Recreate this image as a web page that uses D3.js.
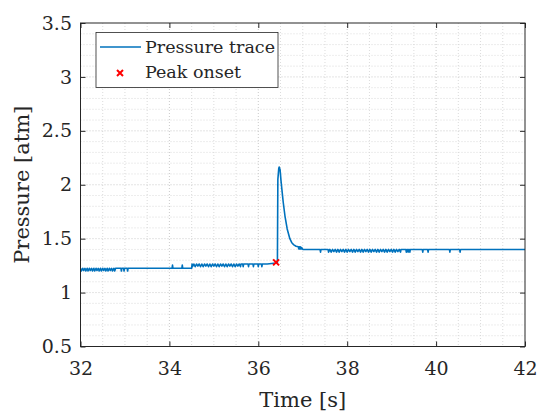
<!DOCTYPE html>
<html><head><meta charset="utf-8">
<script src="https://cdn.jsdelivr.net/npm/d3@7"></script>
<style>
body{margin:0;background:#fff}
svg{display:block}
</style></head>
<body><svg id="c" width="537" height="413" font-family="'DejaVu Serif', serif"></svg>
<script>
// ---- data ----
const xTicks = [32, 34, 36, 38, 40, 42];
const yTicks = [0.5, 1, 1.5, 2, 2.5, 3, 3.5];
const xLabel = "Time [s]";
const yLabel = "Pressure [atm]";
const legendLabels = ["Pressure trace", "Peak onset"];

// baseline before the peak: noisy band, spikes, level step
const baselineA = [
  [32.00,1.225],[32.02,1.20],[32.05,1.225],[32.07,1.205],[32.10,1.225],[32.12,1.20],[32.15,1.225],[32.17,1.20],
  [32.20,1.225],[32.22,1.205],[32.25,1.225],[32.27,1.20],[32.30,1.225],[32.32,1.20],[32.35,1.225],[32.37,1.205],
  [32.40,1.225],[32.42,1.20],[32.45,1.225],[32.47,1.20],[32.50,1.225],[32.52,1.205],[32.55,1.225],[32.57,1.20],
  [32.60,1.225],[32.62,1.20],[32.65,1.225],[32.67,1.205],[32.70,1.225],[32.72,1.20],[32.75,1.225],[32.77,1.20],
  [32.79,1.225],
  [32.91,1.225],[32.92,1.20],[32.93,1.225],[32.97,1.225],[32.98,1.20],[32.99,1.225],
  [33.05,1.225],[33.06,1.20],[33.07,1.225],
  [34.06,1.225],[34.07,1.255],[34.08,1.225],[34.28,1.225],[34.29,1.255],[34.30,1.225],
  [34.50,1.225],[34.51,1.265]
];
const baselineB = [
  [34.52,1.24],[34.55,1.265],[34.58,1.24],[34.61,1.265],[34.64,1.245],[34.67,1.265],[34.70,1.24],[34.73,1.265],
  [34.76,1.24],[34.79,1.265],[34.82,1.245],[34.85,1.265],[34.88,1.24],[34.91,1.265],[34.94,1.24],[34.97,1.265],
  [35.00,1.245],[35.03,1.265],[35.06,1.24],[35.09,1.265],[35.12,1.24],[35.15,1.265],[35.18,1.245],[35.21,1.265],
  [35.24,1.24],[35.27,1.265],[35.30,1.24],[35.33,1.265],[35.36,1.245],[35.39,1.265],[35.42,1.24],[35.45,1.265],
  [35.48,1.24],[35.51,1.265],[35.54,1.245],[35.57,1.265],[35.60,1.24],[35.61,1.265],
  [35.65,1.265],[35.66,1.24],[35.67,1.265],[35.77,1.265],[35.78,1.24],[35.79,1.265],
  [35.88,1.265],[35.89,1.24],[35.90,1.265],[35.99,1.265],[36.00,1.24],[36.01,1.265],
  [36.07,1.265],[36.08,1.24],[36.09,1.265],[36.20,1.265],[36.40,1.275],[36.43,1.28]
];
// pressure peak and decay
const peak = [
  [36.44,2.05],[36.46,2.15],[36.47,2.165],[36.49,2.14],[36.51,2.04],[36.53,1.96],[36.56,1.84],[36.60,1.71],
  [36.65,1.59],[36.71,1.50],[36.75,1.465],[36.79,1.445],[36.85,1.43],[36.90,1.425],[36.91,1.405],[36.92,1.425],
  [36.93,1.405],[36.94,1.425],[36.95,1.405],[36.96,1.42],[36.97,1.405],[36.98,1.415],[37.00,1.40]
];
// plateau after the peak
const plateau = [
  [37.39,1.40],[37.40,1.375],[37.41,1.40],[37.57,1.40],
  [37.58,1.375],[37.61,1.40],[37.64,1.375],[37.67,1.40],[37.70,1.38],[37.73,1.40],[37.76,1.375],[37.79,1.40],
  [37.82,1.375],[37.85,1.40],[37.88,1.38],[37.91,1.40],[37.94,1.375],[37.97,1.40],[38.00,1.375],[38.03,1.40],
  [38.06,1.38],[38.09,1.40],[38.12,1.375],[38.15,1.40],[38.18,1.375],[38.21,1.40],[38.24,1.38],[38.27,1.40],
  [38.30,1.375],[38.33,1.40],[38.36,1.375],[38.39,1.40],[38.42,1.38],[38.45,1.40],[38.48,1.375],[38.51,1.40],
  [38.54,1.375],[38.57,1.40],[38.60,1.38],[38.63,1.40],[38.66,1.375],[38.69,1.40],[38.72,1.375],[38.75,1.40],
  [38.78,1.38],[38.81,1.40],[38.84,1.375],[38.87,1.40],[38.90,1.375],[38.93,1.40],[38.96,1.38],[38.99,1.40],
  [39.02,1.375],[39.05,1.40],[39.08,1.375],[39.11,1.40],[39.14,1.38],[39.17,1.40],[39.20,1.375],[39.21,1.40],
  [39.32,1.40],[39.33,1.375],[39.34,1.40],[39.36,1.40],[39.37,1.375],[39.38,1.40],[39.40,1.40],[39.41,1.375],[39.42,1.40],
  [39.69,1.40],[39.70,1.375],[39.71,1.40],[39.81,1.40],[39.82,1.375],[39.83,1.40],
  [40.30,1.40],[40.31,1.375],[40.32,1.40],[40.53,1.40],[40.54,1.375],[40.55,1.40],[42.00,1.40]
];
const onsetTime = [36.40];
const onsetPressure = [1.28];

// ---- layout ----
const FONT = "'DejaVu Serif', serif";
const svg = d3.select("#c");
const L = 80.5, R = 525, T = 23, B = 346.5;
const x = d3.scaleLinear().domain([32, 42]).range([L, R]);
const y = d3.scaleLinear().domain([0.5, 3.5]).range([B, T]);
const axisColor = "#262626";
const blue = "#0072BD";

svg.append("rect").attr("width",537).attr("height",413).attr("fill","#fff");

// grid (minor every 0.5 s / 0.1 atm, major on ticks)
const g = svg.append("g");
const xMinor = d3.range(32.5, 42, 0.5);
const yMinor = d3.range(0.6, 3.45, 0.1);
g.selectAll(".vx").data(xMinor).join("line")
  .attr("x1", d => x(d)).attr("x2", d => x(d)).attr("y1", T).attr("y2", B)
  .attr("stroke", d => (Math.abs(d % 2) < 1e-6 ? "#bdbdbd" : "#d2d2d2"))
  .attr("stroke-width", 0.8).attr("stroke-dasharray", "1,2");
g.selectAll(".hy").data(yMinor).join("line")
  .attr("x1", L).attr("x2", R).attr("y1", d => y(d)).attr("y2", d => y(d))
  .attr("stroke", d => (Math.abs((d*10) % 5) < 1e-6 || Math.abs((d*10) % 5 - 5) < 1e-6 ? "#bdbdbd" : "#d2d2d2"))
  .attr("stroke-width", 0.8).attr("stroke-dasharray", "1,2");

// trace
const trace = baselineA.concat(baselineB, peak, plateau);
svg.append("defs").append("clipPath").attr("id","clip").append("rect")
  .attr("x", L).attr("y", T).attr("width", R - L).attr("height", B - T);
svg.append("path").datum(trace)
  .attr("clip-path","url(#clip)")
  .attr("fill","none").attr("stroke", blue).attr("stroke-width", 1.6)
  .attr("stroke-linejoin","round")
  .attr("d", d3.line().x(d => x(d[0])).y(d => y(d[1])));

// onset marker
const xs = 3;
const mk = svg.append("g").selectAll("g").data(onsetTime).join("g")
  .attr("transform", (d, i) => `translate(${x(d)},${y(onsetPressure[i])})`);
mk.append("path").attr("d", `M${-xs},${-xs}L${xs},${xs}M${-xs},${xs}L${xs},${-xs}`)
  .attr("stroke", "#FF0000").attr("stroke-width", 2);

// axes
const ax = (sel) => {
  sel.attr("font-family", FONT).attr("font-size", 19);
  sel.select(".domain").remove();
  sel.selectAll("line").attr("stroke", axisColor);
  sel.selectAll("text").attr("fill", axisColor).attr("font-family", FONT).attr("font-size", 19);
};
svg.append("g").attr("transform",`translate(0,${B})`)
  .call(d3.axisBottom(x).tickValues(xTicks).tickSize(-5).tickPadding(15).tickFormat(d3.format("d"))).call(ax);
svg.append("g").attr("transform",`translate(0,${T})`)
  .call(d3.axisTop(x).tickValues(xTicks).tickSize(-5).tickFormat("")).call(ax);
svg.append("g").attr("transform",`translate(${L},0)`)
  .call(d3.axisLeft(y).tickValues(yTicks).tickSize(-5).tickPadding(8.5).tickFormat(d => String(d))).call(ax);
svg.append("g").attr("transform",`translate(${R},0)`)
  .call(d3.axisRight(y).tickValues(yTicks).tickSize(-5).tickFormat("")).call(ax);

svg.append("rect").attr("x", L).attr("y", T).attr("width", R - L).attr("height", B - T)
  .attr("fill","none").attr("stroke", axisColor).attr("stroke-width", 1);

// axis titles
svg.append("text").attr("x", (L + R) / 2).attr("y", 406.5).attr("text-anchor","middle")
  .attr("font-family", FONT).attr("font-size", 21).attr("fill", axisColor).text(xLabel);
svg.append("text").attr("transform", `translate(29,${(T + B) / 2}) rotate(-90)`).attr("text-anchor","middle")
  .attr("font-family", FONT).attr("font-size", 21).attr("fill", axisColor).text(yLabel);

// legend
const lg = svg.append("g");
lg.append("rect").attr("x", 96).attr("y", 32.5).attr("width", 182).attr("height", 55)
  .attr("fill","#fff").attr("stroke", axisColor).attr("stroke-width", 0.8);
lg.append("line").attr("x1", 100).attr("x2", 141).attr("y1", 47).attr("y2", 47)
  .attr("stroke", blue).attr("stroke-width", 1.5);
lg.append("path").attr("transform","translate(120,73)")
  .attr("d", `M${-xs},${-xs}L${xs},${xs}M${-xs},${xs}L${xs},${-xs}`)
  .attr("stroke", "#FF0000").attr("stroke-width", 2);
lg.selectAll("text.lt").data(legendLabels).join("text").attr("class","lt")
  .attr("x", 145).attr("y", (d, i) => 53 + i * 25)
  .attr("font-family", FONT).attr("font-size", 17.5).attr("fill", axisColor).text(d => d);
</script></body></html>
